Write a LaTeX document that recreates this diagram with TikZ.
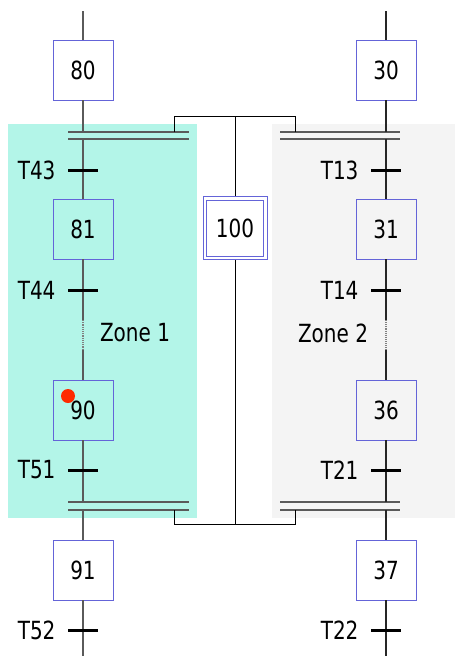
\documentclass[tikz,border=0pt]{standalone}
\usepackage{fontspec}
\setmainfont[FakeStretch=0.8]{DejaVu Sans}
\usetikzlibrary{positioning}
\definecolor{zonecyan}{HTML}{B3F5E8}
\definecolor{zonegray}{HTML}{F4F4F4}
\definecolor{stepblue}{HTML}{6464D8}
\definecolor{wiregray}{HTML}{5A5A5A}
\definecolor{tokenred}{HTML}{FF2A00}

\begin{document}
\begin{tikzpicture}[
  x=1pt, y=-1pt,
  every node/.style={font=\fontsize{25}{29}\selectfont},
  stepbox/.style={draw=stepblue, line width=0.8pt, minimum width=60pt,
                  minimum height=60pt, inner sep=0pt},
  initbox/.style={stepbox, line width=1pt, minimum width=64pt, minimum height=63pt},
  initinner/.style={stepbox, line width=1pt, minimum width=57pt, minimum height=56pt},
  trans/.style={fill=black, minimum width=30pt, minimum height=3pt,
                inner sep=0pt, outer sep=0pt},
  wire/.style={draw=wiregray, line width=1.2pt},
  wireR/.style={draw=black!85, line width=1.1pt},
  sync/.style={draw=wiregray, line width=1.6pt},
  link/.style={draw=black, line width=1pt},
  token/.style={circle, fill=tokenred, minimum size=14pt, inner sep=0pt}
]
\useasboundingbox (0,0) rectangle (455,656);

% Zones
\fill[zonecyan] (8,124) rectangle (197,518);
\fill[zonegray] (272,124) rectangle (455,518);
\node (z1) at (135,333) {Zone 1};
\node (z2) at (333,333) {Zone 2};

% Reference coordinates
\coordinate (in80)  at (83,11);
\coordinate (in30)  at (386,11);
\coordinate (out91) at (83,656);
\coordinate (out37) at (386,656);
\coordinate (synT)  at (0,132);
\coordinate (synTb) at (0,139);
\coordinate (synB)  at (0,502);
\coordinate (synBb) at (0,510);
\coordinate (busT)  at (0,116);
\coordinate (busB)  at (0,524);
\coordinate (jL)    at (174,0);
\coordinate (jR)    at (295,0);
\coordinate (dotL1) at (83,320);
\coordinate (dotL2) at (83,350);
\coordinate (dotR1) at (386,320);
\coordinate (dotR2) at (386,350);

% Steps - left
\node[stepbox] (s80) at (83,70)  {80};
\node[stepbox] (s81) at (83,229) {81};
\node[stepbox] (s90) at (83,410) {90};
\node[stepbox] (s91) at (83,570) {91};

% Steps - right
\node[stepbox] (s30) at (386,70)  {30};
\node[stepbox] (s31) at (386,229) {31};
\node[stepbox] (s36) at (386,410) {36};
\node[stepbox] (s37) at (386,570) {37};

% Initial step (double frame)
\node[initbox] (s100) at (235,228) {100};
\node[initinner] (s100in) at (s100) {};

% Transitions
\node[trans, label={[label distance=9pt]left:T43}] (t43) at (83,170) {};
\node[trans, label={[label distance=9pt]left:T44}] (t44) at (83,290) {};
\node[trans, label={[label distance=9pt]left:T51}] (t51) at (83,470) {};
\node[trans, label={[label distance=9pt]left:T52}] (t52) at (83,630) {};
\node[trans, label={[label distance=9pt]left:T13}] (t13) at (386,170) {};
\node[trans, label={[label distance=9pt]left:T14}] (t14) at (386,290) {};
\node[trans, label={[label distance=9pt]left:T21}] (t21) at (386,470) {};
\node[trans, label={[label distance=9pt]left:T22}] (t22) at (386,630) {};

% Synchronisation bars
\draw[sync] (68,132) -- (189,132);
\draw[sync] (68,139) -- (189,139);
\draw[sync] (280,132) -- (400,132);
\draw[sync] (280,139) -- (400,139);
\draw[sync] (68,502) -- (189,502);
\draw[sync] (68,510) -- (189,510);
\draw[sync] (280,502) -- (400,502);
\draw[sync] (280,510) -- (400,510);

% Left sequence
\draw[wire] (in80) -- (s80);
\draw[wire] (s80) -- (s80 |- synT);
\draw[wire] (s80 |- synTb) -- (t43);
\draw[wire] (t43) -- (s81);
\draw[wire] (s81) -- (t44);
\draw[wire] (t44) -- (dotL1);
\draw[wire, densely dotted, draw=gray] (dotL1) -- (dotL2);
\draw[wire] (dotL2) -- (s90);
\draw[wire] (s90) -- (t51);
\draw[wire] (t51) -- (s90 |- synB);
\draw[wire] (s91 |- synBb) -- (s91);
\draw[wire] (s91) -- (t52);
\draw[wire] (t52) -- (out91);

% Right sequence
\draw[wireR] (in30) -- (s30);
\draw[wireR] (s30) -- (s30 |- synT);
\draw[wireR] (s30 |- synTb) -- (t13);
\draw[wireR] (t13) -- (s31);
\draw[wireR] (s31) -- (t14);
\draw[wireR] (t14) -- (dotR1);
\draw[wireR, densely dotted, draw=gray] (dotR1) -- (dotR2);
\draw[wireR] (dotR2) -- (s36);
\draw[wireR] (s36) -- (t21);
\draw[wireR] (t21) -- (s36 |- synB);
\draw[wireR] (s37 |- synBb) -- (s37);
\draw[wireR] (s37) -- (t22);
\draw[wireR] (t22) -- (out37);

% Links to step 100
\draw[link] (jL |- synT) -- (jL |- busT) -- (jR |- busT) -- (jR |- synT);
\draw[link] (jL |- synBb) -- (jL |- busB) -- (jR |- busB) -- (jR |- synBb);
\draw[link] (s100 |- busT) -- (s100);
\draw[link] (s100) -- (s100 |- busB);

% Token
\node[token] (tok) at (68,396) {};

\end{tikzpicture}
\end{document}
